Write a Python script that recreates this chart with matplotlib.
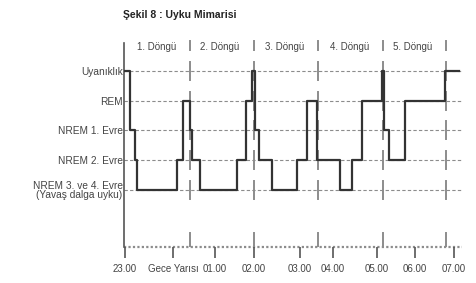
import matplotlib
matplotlib.use('Agg')
import matplotlib.pyplot as plt

plt.rcParams['font.family'] = ['Liberation Sans', 'DejaVu Sans']

# uyku evreleri (0 = NREM 3-4, 4 = uyanıklık)
stage_names = ['NREM 3. ve 4. Evre\n(Yavaş dalga uyku)', 'NREM 2. Evre', 'NREM 1. Evre', 'REM', 'Uyanıklık']
stage_levels = [0, 1, 2, 3, 4]

# hipnogram: 23.00'dan itibaren saat, evre
hyp_time = [0.0, 0.12, 0.24, 0.29, 1.26, 1.41, 1.58, 1.63, 1.82, 2.72, 2.94, 3.09, 3.16, 3.26,
            3.57, 4.18, 4.43, 4.67, 5.23, 5.52, 5.76, 6.25, 6.30, 6.42, 6.81, 7.78, 8.12]
hyp_stage = [4, 2, 1, 0, 1, 3, 2, 1, 0, 1, 3, 4, 2, 1,
             0, 1, 3, 1, 0, 1, 3, 4, 2, 1, 3, 4, 4]

# saat etiketleri
tick_pos = [0.0, 1.17, 2.19, 3.14, 4.26, 5.06, 6.13, 7.05, 8.0]
tick_labels = ['23.00', 'Gece Yarısı', '01.00', '02.00', '03.00', '04.00', '05.00', '06.00', '07.00']

# döngü sınırları ve adları
cycle_bounds = [1.58, 3.14, 4.69, 6.27, 7.81]
cycle_centers = [0.78, 2.31, 3.89, 5.47, 7.0]
cycle_names = ['1. Döngü', '2. Döngü', '3. Döngü', '4. Döngü', '5. Döngü']

fig = plt.figure(figsize=(4.76, 2.83), dpi=100)
ax = fig.add_axes([124 / 476, 1 - 247 / 283, 338 / 476, 211 / 283])
ax.set_xlim(-0.02, 8.2)
ax.set_ylim(-1.92, 5.17)

gray = '#8c8c8c'
dark = '#333333'

# yatay kesikli çizgiler
for lv in stage_levels:
    ax.axhline(lv, color=gray, lw=0.8, ls=(0, (3, 2)), zorder=1)
ax.axhline(-1.92, color=gray, lw=1.6, ls=(0, (1, 1)), zorder=1, clip_on=False)

# döngü sınırları
for xb in cycle_bounds:
    for lv in stage_levels:
        ax.plot([xb, xb], [lv - 0.3, lv + 0.3], color=gray, lw=1.4, zorder=2)
    ax.plot([xb, xb], [4.7, 5.0], color=gray, lw=1.4, zorder=2)
    ax.plot([xb, xb], [-1.92, -1.45], color=gray, lw=1.4, zorder=2)

for xc, name in zip(cycle_centers, cycle_names):
    ax.text(xc, 4.81, name, ha='center', va='center', fontsize=7, color='#444444')

ax.step(hyp_time, hyp_stage, where='post', color=dark, lw=1.6, zorder=3)

for s in ['top', 'right', 'bottom']:
    ax.spines[s].set_visible(False)
ax.spines['left'].set_bounds(-1.92, 4.95)
ax.spines['left'].set_color('#555555')
ax.spines['left'].set_linewidth(1.2)

ax.set_yticks(stage_levels)
ax.set_yticklabels(stage_names, fontsize=7.3, color='#444444', linespacing=0.9)
ax.tick_params(axis='y', length=0, pad=1)

ax.set_xticks(tick_pos)
ax.set_xticklabels(tick_labels, fontsize=7, color='#444444')
ax.tick_params(axis='x', length=8, width=1.2, color='#555555', pad=4)

fig.text(123 / 476, 1 - 15 / 283, 'Şekil 8 : Uyku Mimarisi', fontsize=7.5, fontweight='bold',
         ha='left', va='center', color='#222222')

fig.savefig('out.png', dpi=100)
